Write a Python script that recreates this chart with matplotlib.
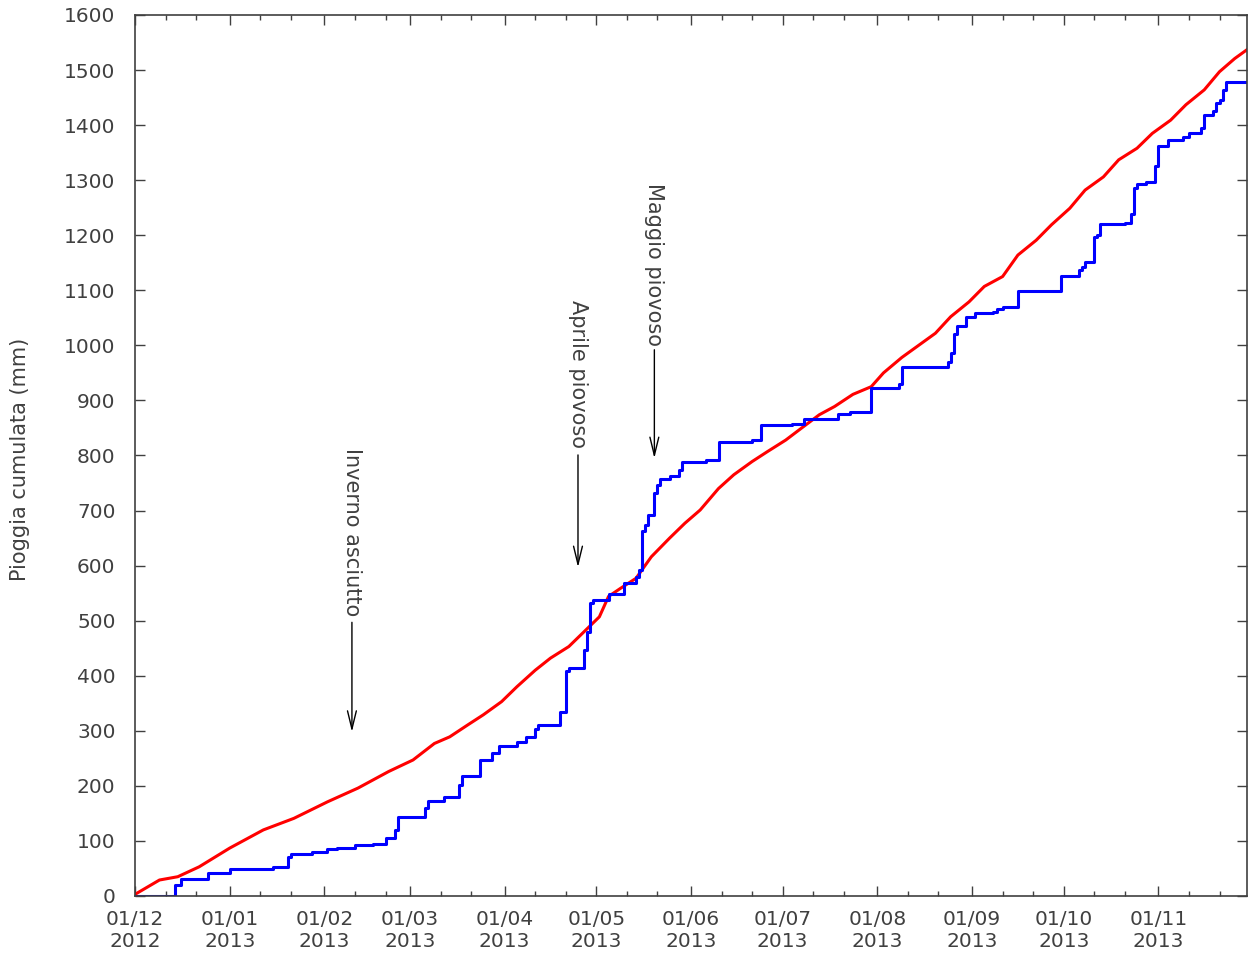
import matplotlib
matplotlib.use("Agg")
import matplotlib.pyplot as plt
import matplotlib.dates as mdates
import numpy as np

# pioggia osservata (cumulata a gradini), 2012-12-01 .. 2013-11-30
date_oss = ['2012-12-01', '2012-12-14', '2012-12-16', '2012-12-25', '2013-01-01',
            '2013-01-15', '2013-01-20', '2013-01-21', '2013-01-28', '2013-02-02',
            '2013-02-05', '2013-02-11', '2013-02-17', '2013-02-21', '2013-02-24',
            '2013-02-25', '2013-03-06', '2013-03-07', '2013-03-12', '2013-03-17',
            '2013-03-18', '2013-03-24', '2013-03-28', '2013-03-30', '2013-04-05',
            '2013-04-08', '2013-04-11', '2013-04-12', '2013-04-19', '2013-04-21',
            '2013-04-22', '2013-04-27', '2013-04-28', '2013-04-29', '2013-04-30',
            '2013-05-05', '2013-05-10', '2013-05-14', '2013-05-15', '2013-05-16',
            '2013-05-17', '2013-05-18', '2013-05-20', '2013-05-21', '2013-05-22',
            '2013-05-25', '2013-05-28', '2013-05-29', '2013-06-06', '2013-06-10',
            '2013-06-21', '2013-06-24', '2013-07-04', '2013-07-08', '2013-07-19',
            '2013-07-23', '2013-07-30', '2013-08-08', '2013-08-09', '2013-08-24',
            '2013-08-25', '2013-08-26', '2013-08-27', '2013-08-30', '2013-09-02',
            '2013-09-08', '2013-09-09', '2013-09-11', '2013-09-16', '2013-09-30',
            '2013-10-06', '2013-10-07', '2013-10-08', '2013-10-11', '2013-10-12',
            '2013-10-13', '2013-10-21', '2013-10-23', '2013-10-24', '2013-10-25',
            '2013-10-28', '2013-10-31', '2013-11-01', '2013-11-04', '2013-11-09',
            '2013-11-11', '2013-11-15', '2013-11-16', '2013-11-19', '2013-11-20',
            '2013-11-21', '2013-11-22', '2013-11-23', '2013-11-30']
pioggia_oss = [0, 20, 31, 41, 49,
               53, 71, 77, 80, 85,
               88, 92, 94, 105, 120,
               143, 160, 172, 180, 201,
               217, 247, 259, 273, 280,
               288, 304, 311, 335, 409,
               414, 447, 480, 533, 538,
               549, 568, 580, 592, 662,
               674, 692, 731, 747, 757,
               762, 774, 789, 792, 825,
               829, 855, 858, 866, 875,
               879, 923, 930, 960, 969,
               987, 1021, 1035, 1051, 1058,
               1061, 1066, 1070, 1098, 1126,
               1136, 1142, 1152, 1196, 1201,
               1220, 1222, 1239, 1285, 1293,
               1296, 1325, 1362, 1373, 1379,
               1385, 1394, 1418, 1425, 1440,
               1446, 1464, 1479, 1479]

# pioggia media (cumulata)
date_media = ['2012-12-01', '2012-12-09', '2012-12-15', '2012-12-22', '2013-01-01',
              '2013-01-12', '2013-01-22', '2013-02-02', '2013-02-12', '2013-02-22',
              '2013-03-02', '2013-03-09', '2013-03-14', '2013-03-20', '2013-03-25',
              '2013-03-31', '2013-04-05', '2013-04-11', '2013-04-16', '2013-04-22',
              '2013-04-27', '2013-05-02', '2013-05-05', '2013-05-09', '2013-05-14',
              '2013-05-19', '2013-05-25', '2013-05-30', '2013-06-04', '2013-06-10',
              '2013-06-15', '2013-06-21', '2013-06-26', '2013-07-02', '2013-07-07',
              '2013-07-13', '2013-07-18', '2013-07-24', '2013-07-30', '2013-08-03',
              '2013-08-09', '2013-08-14', '2013-08-20', '2013-08-25', '2013-08-31',
              '2013-09-05', '2013-09-11', '2013-09-16', '2013-09-22', '2013-09-27',
              '2013-10-03', '2013-10-08', '2013-10-14', '2013-10-19', '2013-10-25',
              '2013-10-30', '2013-11-05', '2013-11-10', '2013-11-16', '2013-11-21',
              '2013-11-26', '2013-11-30']
pioggia_media = [3, 29, 35, 53, 87,
                 120, 141, 171, 196, 226,
                 247, 277, 289, 311, 329,
                 353, 380, 410, 432, 453,
                 480, 507, 544, 559, 577,
                 616, 650, 677, 701, 740,
                 765, 789, 807, 828, 849,
                 874, 889, 911, 925, 950,
                 978, 998, 1022, 1052, 1079,
                 1107, 1125, 1164, 1191, 1219,
                 1249, 1282, 1306, 1337, 1358,
                 1385, 1409, 1437, 1464, 1497,
                 1521, 1537]

# annotazioni: testo, data, inizio testo, inizio freccia, punta freccia
note_testo = ['Inverno asciutto', 'Aprile piovoso', 'Maggio piovoso']
note_data = ['2013-02-10', '2013-04-25', '2013-05-20']
note_top = [813, 1082, 1295]
note_da = [497, 801, 992]
note_a = [298, 597, 795]

col_txt = '#404040'
plt.rcParams['font.family'] = 'DejaVu Sans'
plt.rcParams['font.size'] = 14.5

fig = plt.figure(figsize=(12.48, 9.55), dpi=100)
ax = fig.add_axes([0.1082, 0.0618, 0.8910, 0.9225])

x_oss = np.array(date_oss, dtype='datetime64[D]')
x_media = np.array(date_media, dtype='datetime64[D]')

ax.plot(x_media, pioggia_media, color='#ff0000', lw=2.2)
ax.plot(x_oss, pioggia_oss, color='#0000ff', lw=2.2, drawstyle='steps-post')

for testo, d, top, y0, y1 in zip(note_testo, note_data, note_top, note_da, note_a):
    xd = np.datetime64(d)
    ax.text(xd, top, testo, rotation=270, ha='center', va='top',
            color=col_txt, fontsize=15)
    ax.annotate('', xy=(xd, y1), xytext=(xd, y0),
                arrowprops=dict(arrowstyle='->,head_length=0.9,head_width=0.22',
                                color='black', lw=1.0, shrinkA=0, shrinkB=0))

ax.set_xlim(np.datetime64('2012-12-01'), np.datetime64('2013-11-30'))
ax.set_ylim(0, 1600)
ax.set_yticks(np.arange(0, 1601, 100))

ax.xaxis.set_major_locator(mdates.MonthLocator())
ax.xaxis.set_major_formatter(mdates.DateFormatter('%d/%m\n%Y'))
ax.xaxis.set_minor_locator(mdates.DayLocator(bymonthday=[11, 21]))

ax.tick_params(which='both', direction='in', top=True, right=True,
               colors='#404040', labelcolor=col_txt, labelsize=14.5)
ax.tick_params(which='major', length=7, width=1)
ax.tick_params(which='minor', length=3.5, width=1)
ax.tick_params(axis='y', pad=14)
ax.tick_params(axis='x', pad=10)

for s in ax.spines.values():
    s.set_color('#404040')
    s.set_linewidth(1.2)

fig.text(0.016, 0.519, 'Pioggia cumulata (mm)', rotation=90, ha='center',
         va='center', color=col_txt, fontsize=15)

fig.savefig('out.png', dpi=100)
